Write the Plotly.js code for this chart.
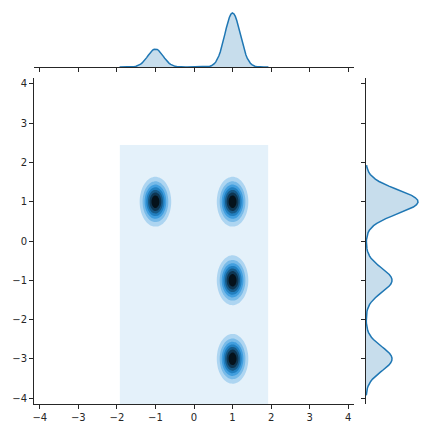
<!DOCTYPE html>
<html>
<head>
<meta charset="utf-8">
<script src="https://cdn.plot.ly/plotly-3.0.1.min.js"></script>
<style>html,body{margin:0;padding:0;background:#fff;}#chart{width:432px;height:432px;}</style>
</head>
<body>
<div id="chart"></div>
<script>
// Observations (cluster centres of the sample), one per point
const obsX = [-1, 1, 1, 1];
const obsY = [1, 1, -1, -3];
// KDE bandwidths
const bwX = 0.2;
const bwY = 0.31;
// support of the estimates
const support1dX = [-1.93, 1.93];
const support1dY = [-3.93, 1.93];
const support2dX = [-1.93, 1.93];
const support2dY = [-4.45, 2.45];
const tickVals = [-4, -3, -2, -1, 0, 1, 2, 3, 4];
const baseColor = '#1f77b4';

function linspace(a, b, n) { const o = []; for (let i = 0; i < n; i++) o.push(a + (b - a) * i / (n - 1)); return o; }
function gauss(t, c, s) { const u = (t - c) / s; return Math.exp(-0.5 * u * u) / (s * Math.sqrt(2 * Math.PI)); }
function kde1(grid, obs, bw) { return grid.map(t => obs.reduce((acc, c) => acc + gauss(t, c, bw), 0) / obs.length); }

const gx1 = linspace(support1dX[0], support1dX[1], 100);
const gy1 = linspace(support1dY[0], support1dY[1], 100);
const dx1 = kde1(gx1, obsX, bwX);
const dy1 = kde1(gy1, obsY, bwY);

const gx2 = linspace(support2dX[0], support2dX[1], 100);
const gy2 = linspace(support2dY[0], support2dY[1], 100);
const z = gy2.map(yv => gx2.map(xv => {
  let s = 0;
  for (let i = 0; i < obsX.length; i++) s += gauss(xv, obsX[i], bwX) * gauss(yv, obsY[i], bwY);
  return s / obsX.length;
}));
let zmax = 0; z.forEach(r => r.forEach(v => { if (v > zmax) zmax = v; }));

// colormap: C0 hue, lightness 1 -> 0 (12 anchors)
function hexToRgb(h) { return [parseInt(h.slice(1,3),16)/255, parseInt(h.slice(3,5),16)/255, parseInt(h.slice(5,7),16)/255]; }
function rgbToHls(r, g, b) {
  const mx = Math.max(r,g,b), mn = Math.min(r,g,b); const l = (mx+mn)/2;
  if (mx === mn) return [0, l, 0];
  const s = l <= 0.5 ? (mx-mn)/(mx+mn) : (mx-mn)/(2-mx-mn);
  const rc=(mx-r)/(mx-mn), gc=(mx-g)/(mx-mn), bc=(mx-b)/(mx-mn);
  let h; if (r===mx) h=bc-gc; else if (g===mx) h=2+rc-bc; else h=4+gc-rc;
  h = ((h/6)%1+1)%1; return [h, l, s];
}
function vv(m1, m2, hue) { hue = ((hue%1)+1)%1; if (hue < 1/6) return m1+(m2-m1)*hue*6; if (hue < 0.5) return m2; if (hue < 2/3) return m1+(m2-m1)*(2/3-hue)*6; return m1; }
function hlsToRgb(h, l, s) { if (s===0) return [l,l,l]; const m2 = l<=0.5 ? l*(1+s) : l+s-l*s; const m1 = 2*l-m2; return [vv(m1,m2,h+1/3), vv(m1,m2,h), vv(m1,m2,h-1/3)]; }
const hls = rgbToHls(...hexToRgb(baseColor));
const anchors = linspace(1, 0, 12).map(l => hlsToRgb(hls[0], l, hls[2]));
function cmap(t) {
  const p = t * (anchors.length - 1); const i = Math.min(Math.floor(p), anchors.length - 2); const f = p - i;
  const c = anchors[i].map((v, k) => v + (anchors[i+1][k] - v) * f);
  return 'rgb(' + c.map(v => Math.round(v*255)).join(',') + ')';
}
const nBands = 8;
const cs = [];
for (let k = 0; k < nBands; k++) {
  const col = cmap((k + 0.5) / nBands);
  const lo = Math.max(0, (k - 0.5) / (nBands - 1)), hi = Math.min(1, (k + 0.5) / (nBands - 1));
  cs.push([lo, col]); cs.push([hi, col]);
}
const step = zmax / nBands;

const tickFont = {family: 'DejaVu Sans', size: 10, color: '#262626'};
const axCommon = {showline: true, linecolor: '#262626', linewidth: 1, ticks: 'outside', ticklen: 4, tickwidth: 1, tickcolor: '#262626', showgrid: false, zeroline: false, tickfont: tickFont, tickvals: tickVals, range: [-4.15, 4.15]};
const W = 432;

const traces = [
  {type: 'contour', x: gx2, y: gy2, z: z, xaxis: 'x', yaxis: 'y', autocontour: false,
   contours: {start: step, end: step * (nBands - 1), size: step, coloring: 'fill', showlines: false},
   line: {width: 0}, colorscale: cs, showscale: false, hoverinfo: 'skip'},
  {type: 'scatter', mode: 'lines', x: gx1, y: dx1, xaxis: 'x3', yaxis: 'y3', fill: 'tozeroy',
   fillcolor: 'rgba(31,119,180,0.25)', line: {color: baseColor, width: 1.5}, hoverinfo: 'skip'},
  {type: 'scatter', mode: 'lines', x: dy1, y: gy1, xaxis: 'x2', yaxis: 'y2', fill: 'tozerox',
   fillcolor: 'rgba(31,119,180,0.25)', line: {color: baseColor, width: 1.5}, hoverinfo: 'skip'}
];
const maxDx = Math.max(...dx1), maxDy = Math.max(...dy1);
const layout = {
  width: 432, height: 432, margin: {l: 0, r: 0, t: 0, b: 0},
  paper_bgcolor: '#fff', plot_bgcolor: '#fff', showlegend: false,
  xaxis: Object.assign({}, axCommon, {domain: [34/W, 354/W], anchor: 'y'}),
  yaxis: Object.assign({}, axCommon, {domain: [1 - 404/W, 1 - 78/W], anchor: 'x'}),
  xaxis3: Object.assign({}, axCommon, {domain: [34/W, 354/W], anchor: 'y3', showticklabels: false}),
  yaxis3: {domain: [1 - 67/W, 1], anchor: 'x3', visible: false, range: [0, maxDx * 67 / 54]},
  xaxis2: {domain: [366/W, 1], anchor: 'y2', visible: false, range: [0, maxDy * 66 / 52]},
  yaxis2: Object.assign({}, axCommon, {domain: [1 - 404/W, 1 - 78/W], anchor: 'x2', showticklabels: false})
};
Plotly.newPlot('chart', traces, layout, {staticPlot: true, displayModeBar: false});
</script>
</body>
</html>
